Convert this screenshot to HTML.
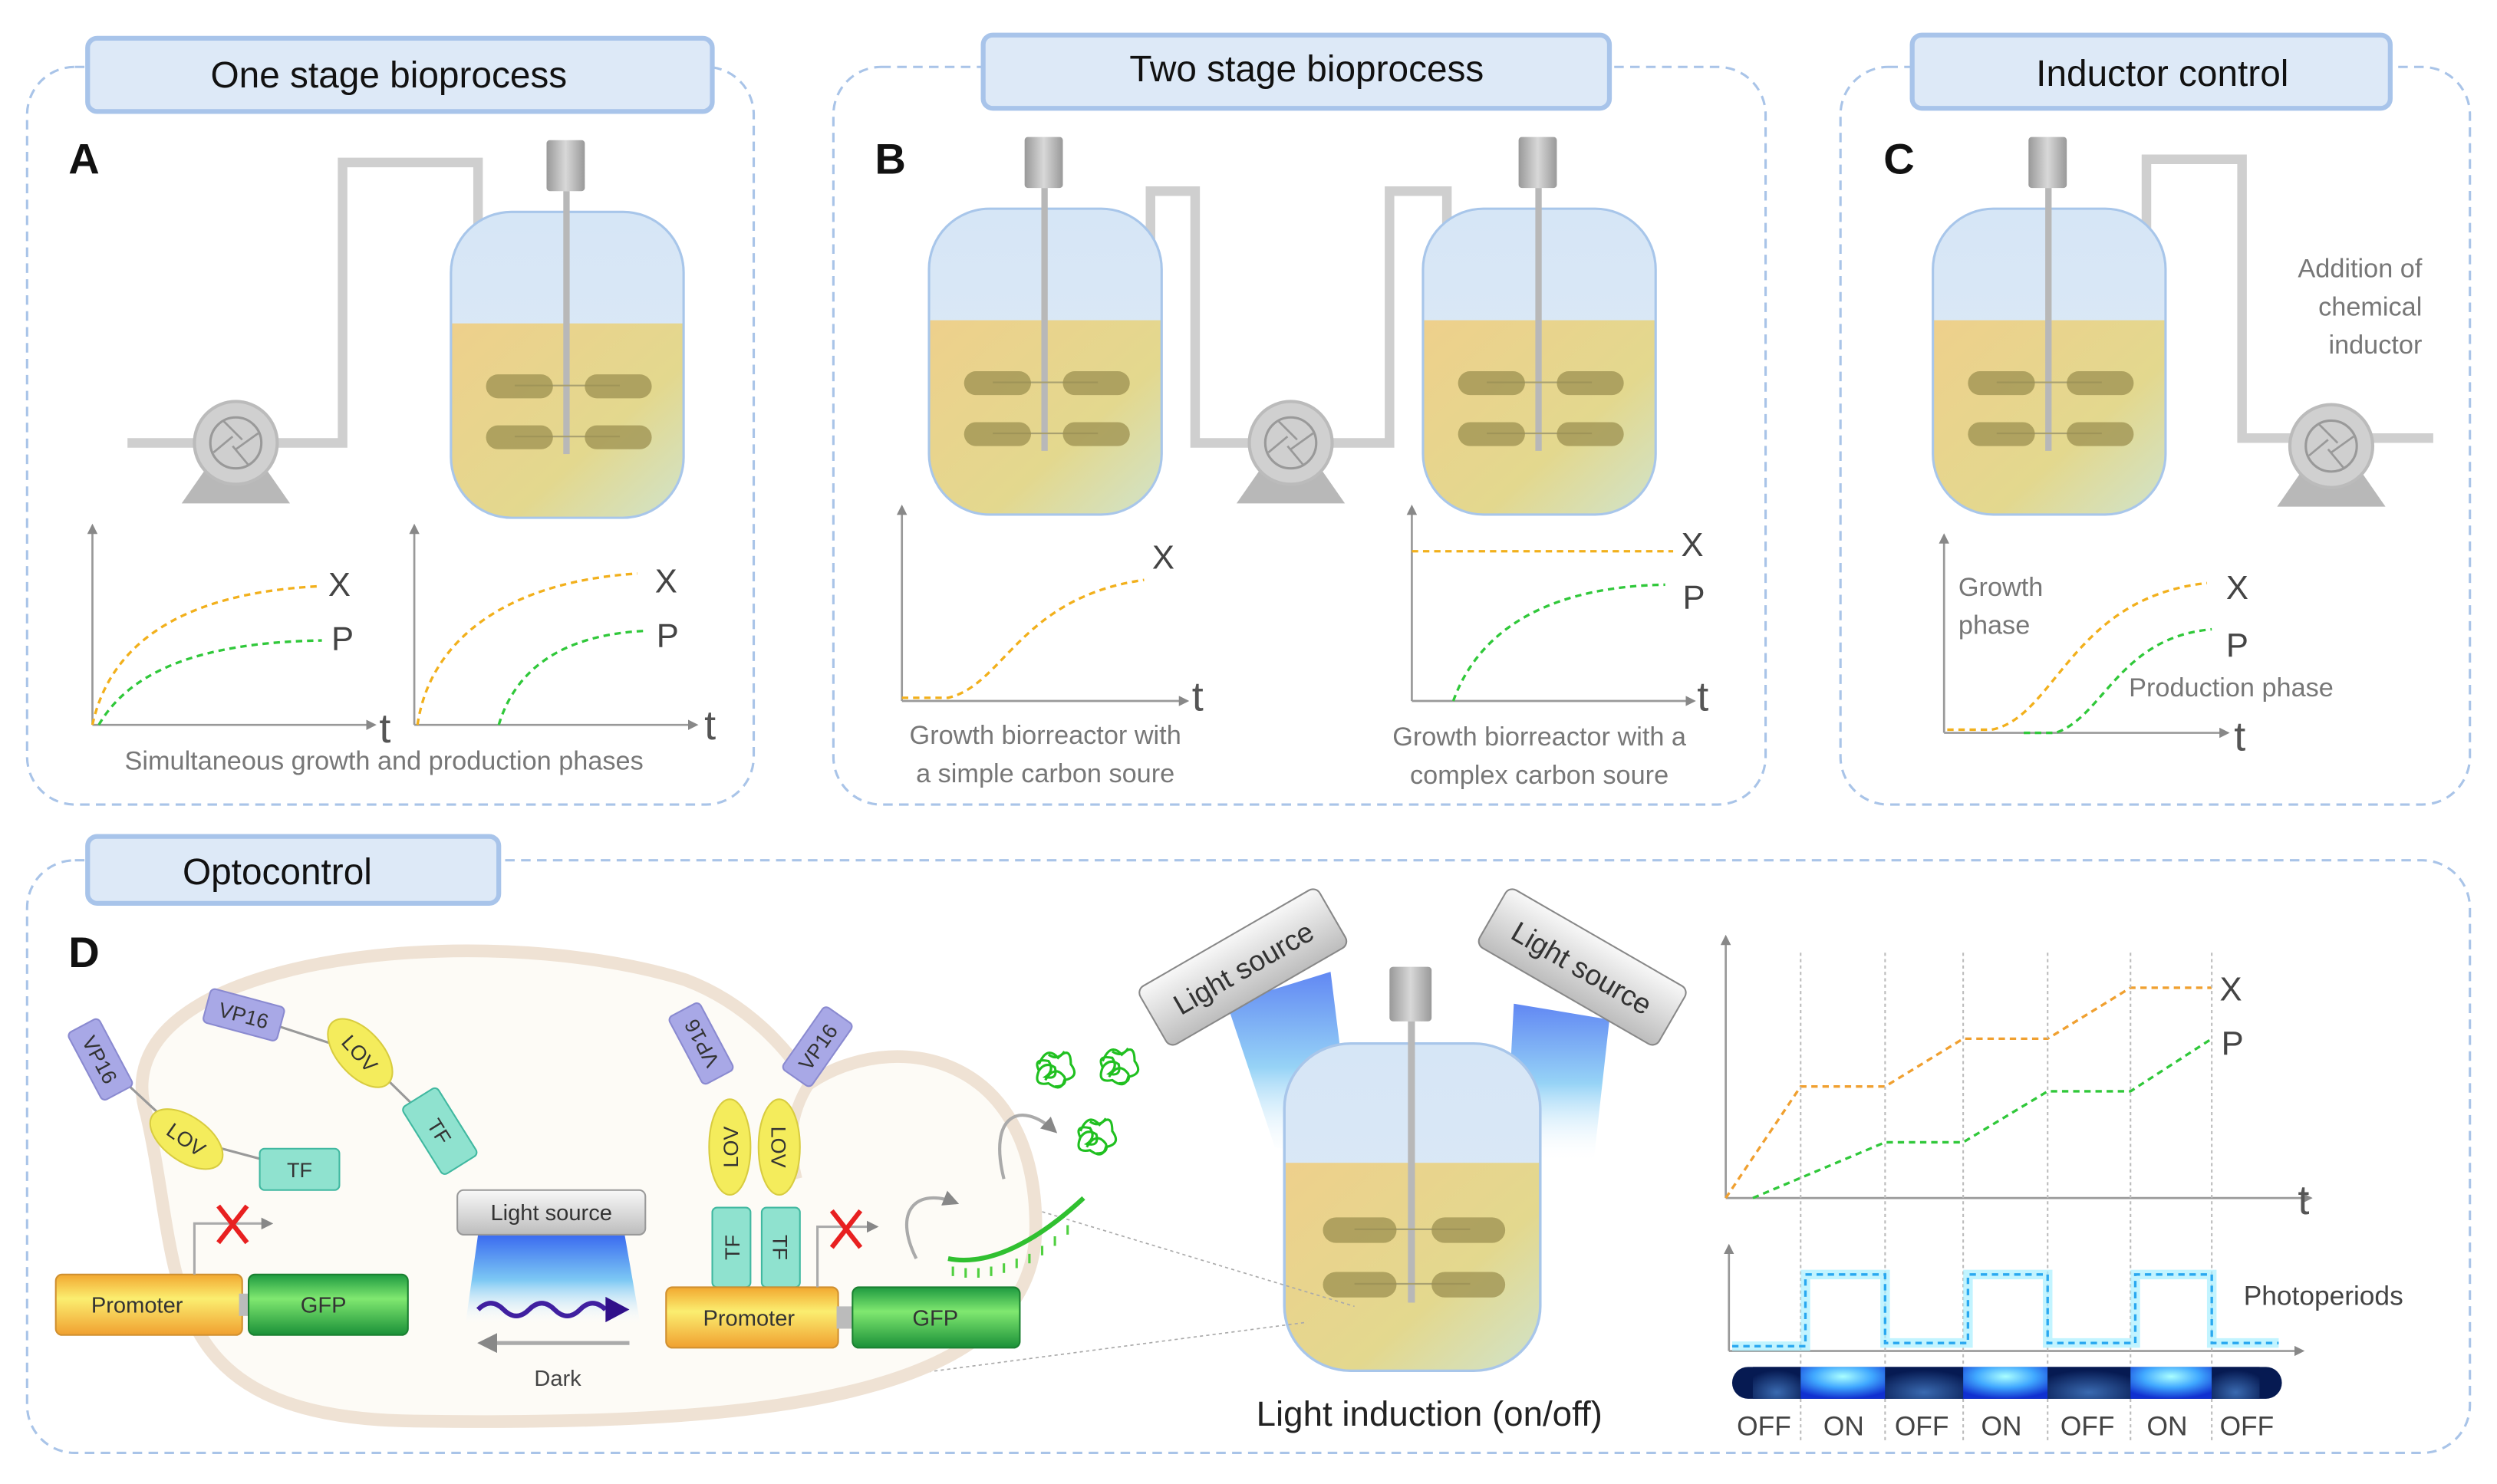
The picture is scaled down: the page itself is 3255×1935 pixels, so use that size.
<!DOCTYPE html>
<html><head><meta charset="utf-8"><style>
html,body{margin:0;padding:0;background:#fff}
svg{display:block}
text{font-family:"Liberation Sans",sans-serif}
</style></head><body>
<svg width="3255" height="1935" viewBox="0 0 1567 931.5" preserveAspectRatio="none" xmlns="http://www.w3.org/2000/svg">
<defs>
<linearGradient id="liq" x1="0" y1="0" x2="1" y2="1"><stop offset="0" stop-color="#eed08c"/><stop offset=".6" stop-color="#e3d88e"/><stop offset="1" stop-color="#cfe4cf"/></linearGradient>
<linearGradient id="gas" x1="0" y1="0" x2="0" y2="1"><stop offset="0" stop-color="#d6e6f6"/><stop offset="1" stop-color="#dfeaf6"/></linearGradient>
<linearGradient id="motor" x1="0" y1="0" x2="1" y2="0"><stop offset="0" stop-color="#999"/><stop offset=".5" stop-color="#d8d8d8"/><stop offset="1" stop-color="#999"/></linearGradient>
<linearGradient id="prom" x1="0" y1="0" x2="0" y2="1"><stop offset="0" stop-color="#f2a830"/><stop offset=".4" stop-color="#fbee70"/><stop offset="1" stop-color="#f0a030"/></linearGradient>
<linearGradient id="gfp" x1="0" y1="0" x2="0" y2="1"><stop offset="0" stop-color="#1e9a40"/><stop offset=".4" stop-color="#80e870"/><stop offset="1" stop-color="#1a9038"/></linearGradient>
<linearGradient id="cone" x1="0" y1="0" x2="0" y2="1"><stop offset="0" stop-color="#3a6af0"/><stop offset=".5" stop-color="#7cc8f4"/><stop offset="1" stop-color="#fff" stop-opacity="0"/></linearGradient>
<linearGradient id="lbox" x1="0" y1="0" x2="0" y2="1"><stop offset="0" stop-color="#f8f8f8"/><stop offset="1" stop-color="#bdbdbd"/></linearGradient>
<radialGradient id="on" cx=".5" cy=".3" r=".7"><stop offset="0" stop-color="#aaffff"/><stop offset=".5" stop-color="#40a8ff"/><stop offset="1" stop-color="#1030d0"/></radialGradient>
<radialGradient id="off" cx=".5" cy=".8" r=".7"><stop offset="0" stop-color="#3a6ab0"/><stop offset="1" stop-color="#061a52"/></radialGradient>
<clipPath id="bodyclip"><rect x="0" y="0" width="146" height="192" rx="38"/></clipPath>
<g id="reactor">
  <rect x="0" y="0" width="146" height="192" rx="38" fill="url(#gas)"/>
  <rect x="0" y="70" width="146" height="130" fill="url(#liq)" clip-path="url(#bodyclip)"/>
  <rect x="0" y="0" width="146" height="192" rx="38" fill="none" stroke="#a8c6ea" stroke-width="1.5"/>
  <rect x="60" y="-45" width="24" height="32" rx="2" fill="url(#motor)"/>
  <rect x="70.5" y="-13" width="4" height="165" fill="#b8b8b8"/>
  <line x1="40" y1="109" x2="106" y2="109" stroke="#a8a070" stroke-width="1"/>
  <line x1="40" y1="141" x2="106" y2="141" stroke="#a8a070" stroke-width="1"/>
  <rect x="22" y="102" width="42" height="15" rx="7.5" fill="#9c9050" opacity=".75"/>
  <rect x="84" y="102" width="42" height="15" rx="7.5" fill="#9c9050" opacity=".75"/>
  <rect x="22" y="134" width="42" height="15" rx="7.5" fill="#9c9050" opacity=".75"/>
  <rect x="84" y="134" width="42" height="15" rx="7.5" fill="#9c9050" opacity=".75"/>
</g>
<g id="pump">
  <path d="M-34,38 L-18,15 L18,15 L34,38 Z" fill="#b8b8b8"/>
  <circle cx="0" cy="0" r="26" fill="#d0d0d0" stroke="#bbb" stroke-width="2"/>
  <circle cx="0" cy="0" r="16" fill="#cfcfcf" stroke="#999" stroke-width="1.5"/>
  <path d="M-8,-14 L4,-2 M14,-6 L0,4 M8,14 L-2,2 M-14,6 L-2,-4" stroke="#999" stroke-width="1.3"/>
</g>
<g id="blob" fill="none" stroke="#20c020" stroke-width="1.5">
  <path d="M-10,-4 q5,-12 12,-4 q8,-8 8,4 q6,8 -4,10 q-2,8 -10,2 q-10,2 -6,-8 q-4,-8 6,-6 q4,6 -2,10 q8,2 6,-6 q-6,-4 -10,2"/>
  <path d="M-6,6 q6,-10 12,-2 q2,6 -6,6 M-4,-10 q6,4 10,-2"/>
</g>
<marker id="ah" viewBox="0 0 10 10" refX="8" refY="5" markerWidth="5" markerHeight="5" orient="auto"><path d="M0,0 L10,5 L0,10 Z" fill="#888"/></marker>
</defs>

<!-- panel frames -->
<g fill="none" stroke="#a9c4e8" stroke-width="1.5" stroke-dasharray="6 4">
<rect x="17" y="42" width="456" height="463" rx="30"/>
<rect x="523" y="42" width="585" height="463" rx="30"/>
<rect x="1155" y="42" width="395" height="463" rx="30"/>
<rect x="17" y="540" width="1533" height="372" rx="30"/>
</g>
<g fill="#dde9f7" stroke="#a8c4ea" stroke-width="3">
<rect x="55" y="24" width="392" height="46" rx="6"/>
<rect x="617" y="22" width="393" height="46" rx="6"/>
<rect x="1200" y="22" width="300" height="46" rx="6"/>
<rect x="55" y="525" width="258" height="42" rx="6"/>
</g>
<g font-size="23" text-anchor="middle" fill="#111">
<text x="244" y="55">One stage bioprocess</text>
<text x="820" y="51">Two stage bioprocess</text>
<text x="1357" y="54">Inductor control</text>
<text x="174" y="555">Optocontrol</text>
</g>
<g font-size="27" font-weight="bold" fill="#111">
<text x="43" y="109">A</text><text x="549" y="109">B</text><text x="1182" y="109">C</text><text x="43" y="607">D</text>
</g>

<!-- pipes -->
<g fill="none" stroke="#cfcfcf" stroke-width="6">
<path d="M80,278 H215 V102 H300 V183"/>
<path d="M722,200 V120 H750 V278 H785"/>
<path d="M835,278 H872 V120 H908 V200"/>
<path d="M1347,180 V100 H1407 V275 H1440"/>
<path d="M1488,275 H1527"/>
</g>

<use href="#reactor" x="283" y="133"/>
<use href="#reactor" x="583" y="131"/>
<use href="#reactor" x="893" y="131"/>
<use href="#reactor" x="1213" y="131"/>
<use href="#pump" x="148" y="278"/>
<use href="#pump" x="810" y="278"/>
<use href="#pump" x="1463" y="280"/>

<g stroke="#999" stroke-width="1.3" fill="none" marker-end="url(#ah)">
<path d="M58,455 V330"/><path d="M58,455 H235"/>
<path d="M260,455 V330"/><path d="M260,455 H437"/>
<path d="M566,440 V318"/><path d="M566,440 H745"/>
<path d="M886,440 V318"/><path d="M886,440 H1063"/>
<path d="M1220,460 V336"/><path d="M1220,460 H1398"/>
<path d="M1083,752 V588"/><path d="M1083,752 H1450"/>
<path d="M1085,848 V782"/><path d="M1085,848 H1445"/>
</g>
<g fill="none" stroke-width="1.6" stroke-dasharray="4 3">
<path d="M58,455 C70,400 120,372 200,368" stroke="#f2b01c"/>
<path d="M62,455 C85,415 140,403 202,402" stroke="#30c83a"/>
<path d="M262,455 C270,400 320,365 400,360" stroke="#f2b01c"/>
<path d="M313,455 C325,415 360,398 405,396" stroke="#30c83a"/>
<path d="M566,438 H595 C630,430 640,375 718,364" stroke="#f2b01c"/>
<path d="M886,346 H1050" stroke="#f2b01c"/>
<path d="M912,440 C930,390 980,368 1045,367" stroke="#30c83a"/>
<path d="M1222,458 H1250 C1290,450 1300,375 1385,366" stroke="#f2b01c"/>
<path d="M1270,460 H1290 C1320,450 1330,400 1388,395" stroke="#30c83a"/>
<path d="M1083,752 L1130,682 H1183 L1232,652 H1285 L1337,620 H1388" stroke="#f0a030"/>
<path d="M1100,752 L1183,717 H1232 L1285,685 H1337 L1388,652" stroke="#30c83a"/>
</g>
<g font-size="21" fill="#444">
<text x="206" y="374">X</text><text x="208" y="408">P</text>
<text x="411" y="372">X</text><text x="412" y="406">P</text>
<text x="723" y="357">X</text>
<text x="1055" y="349">X</text><text x="1056" y="382">P</text>
<text x="1397" y="376">X</text><text x="1397" y="412">P</text>
<text x="1393" y="628">X</text><text x="1394" y="662">P</text>
</g>
<g font-size="26" fill="#555">
<text x="238" y="466">t</text><text x="442" y="464">t</text><text x="748" y="446">t</text>
<text x="1065" y="446">t</text><text x="1402" y="471">t</text><text x="1442" y="762">t</text>
</g>
<g font-size="16.5" fill="#777">
<text x="241" y="483" text-anchor="middle">Simultaneous growth and production phases</text>
<text x="656" y="467" text-anchor="middle">Growth biorreactor with</text>
<text x="656" y="491" text-anchor="middle">a simple carbon soure</text>
<text x="966" y="468" text-anchor="middle">Growth biorreactor with a</text>
<text x="966" y="492" text-anchor="middle">complex carbon soure</text>
<text x="1520" y="174" text-anchor="end">Addition of</text>
<text x="1520" y="198" text-anchor="end">chemical</text>
<text x="1520" y="222" text-anchor="end">inductor</text>
<text x="1229" y="374">Growth</text><text x="1229" y="398">phase</text>
<text x="1336" y="437">Production phase</text>
</g>

<!-- D graph -->
<g stroke="#bbb" stroke-width="1" stroke-dasharray="2 2">
<path d="M1130,598 V905 M1183,598 V905 M1232,598 V905 M1285,598 V905 M1337,598 V905 M1388,598 V905"/>
</g>
<path d="M1087,845 H1133 V800 H1183 V843 H1235 V800 H1285 V843 H1340 V800 H1388 V843 H1430" fill="none" stroke="#a8f0ff" stroke-width="6" opacity=".7"/>
<path d="M1087,845 H1133 V800 H1183 V843 H1235 V800 H1285 V843 H1340 V800 H1388 V843 H1430" fill="none" stroke="#2aa8f0" stroke-width="1.6" stroke-dasharray="4 3"/>
<text x="1408" y="819" font-size="17" fill="#444">Photoperiods</text>
<rect x="1087" y="858" width="345" height="20" rx="10" fill="#061a52"/>
<rect x="1100" y="858" width="30" height="20" fill="url(#off)"/>
<rect x="1130" y="858" width="53" height="20" fill="url(#on)"/>
<rect x="1183" y="858" width="49" height="20" fill="url(#off)"/>
<rect x="1232" y="858" width="53" height="20" fill="url(#on)"/>
<rect x="1285" y="858" width="52" height="20" fill="url(#off)"/>
<rect x="1337" y="858" width="51" height="20" fill="url(#on)"/>
<rect x="1388" y="858" width="30" height="20" fill="url(#off)"/>
<g font-size="17" fill="#444" text-anchor="middle">
<text x="1107" y="901">OFF</text><text x="1157" y="901">ON</text><text x="1206" y="901">OFF</text><text x="1256" y="901">ON</text><text x="1310" y="901">OFF</text><text x="1360" y="901">ON</text><text x="1410" y="901">OFF</text>
</g>

<!-- D reactor + light -->
<path d="M770,630 L835,610 L850,730 L800,720 Z" fill="url(#cone)" opacity=".8"/>
<path d="M950,630 L1010,640 L1000,730 L945,725 Z" fill="url(#cone)" opacity=".8"/>
<g transform="translate(806,655) scale(1.1,1.07)"><use href="#reactor"/></g>
<g transform="translate(780,607) rotate(-30)"><rect x="-65" y="-21" width="130" height="42" rx="5" fill="url(#lbox)" stroke="#888"/><text x="0" y="7" font-size="18" text-anchor="middle" fill="#333">Light source</text></g>
<g transform="translate(993,607) rotate(30)"><rect x="-65" y="-21" width="130" height="42" rx="5" fill="url(#lbox)" stroke="#888"/><text x="0" y="7" font-size="18" text-anchor="middle" fill="#333">Light source</text></g>
<text x="897" y="895" font-size="22" text-anchor="middle" fill="#222">Light induction (on/off)</text>
<path d="M400,885 L820,830 M520,720 L850,820" stroke="#aaa" stroke-width="0.8" stroke-dasharray="2 2"/>

<!-- cell -->
<path d="M92,700 C60,600 300,575 430,615 C470,630 495,660 508,680 C560,645 650,660 650,770 C650,880 470,895 260,892 C95,890 115,800 92,700 Z" fill="#fdfbf6" stroke="#efe2d4" stroke-width="8"/>
<path d="M508,680 C495,700 495,720 500,740" fill="none" stroke="#efe2d4" stroke-width="7"/>

<path d="M63,665 L117,715 L188,734 M153,637 L226,661 L276,710" stroke="#999" stroke-width="1.5" fill="none"/>
<g transform="translate(63,665) rotate(62)"><rect x="-24" y="-11" width="48" height="22" rx="3" fill="#a8a8e6" stroke="#8a8ad0"/><text x="0" y="5" font-size="13" text-anchor="middle" fill="#333">VP16</text></g>
<g transform="translate(153,637) rotate(15)"><rect x="-24" y="-11" width="48" height="22" rx="3" fill="#a8a8e6" stroke="#8a8ad0"/><text x="0" y="5" font-size="13" text-anchor="middle" fill="#333">VP16</text></g>
<g transform="translate(117,715) rotate(35)"><ellipse rx="26" ry="14" fill="#f4ec5c" stroke="#d8cc40"/><text x="0" y="5" font-size="13" text-anchor="middle" fill="#333">LOV</text></g>
<g transform="translate(226,661) rotate(48)"><ellipse rx="26" ry="14" fill="#f4ec5c" stroke="#d8cc40"/><text x="0" y="5" font-size="13" text-anchor="middle" fill="#333">LOV</text></g>
<g transform="translate(188,734)"><rect x="-25" y="-13" width="50" height="26" rx="3" fill="#8fe2cf" stroke="#40b8a0"/><text x="0" y="5" font-size="13" text-anchor="middle" fill="#333">TF</text></g>
<g transform="translate(276,710) rotate(58)"><rect x="-25" y="-13" width="50" height="26" rx="3" fill="#8fe2cf" stroke="#40b8a0"/><text x="0" y="5" font-size="13" text-anchor="middle" fill="#333">TF</text></g>
<g transform="translate(440,655) rotate(-118)"><rect x="-24" y="-11" width="48" height="22" rx="3" fill="#a8a8e6" stroke="#8a8ad0"/><text x="0" y="5" font-size="13" text-anchor="middle" fill="#333">VP16</text></g>
<g transform="translate(513,657) rotate(-55)"><rect x="-24" y="-11" width="48" height="22" rx="3" fill="#a8a8e6" stroke="#8a8ad0"/><text x="0" y="5" font-size="13" text-anchor="middle" fill="#333">VP16</text></g>
<g transform="translate(458,720) rotate(-90)"><ellipse rx="30" ry="13" fill="#f4ec5c" stroke="#d8cc40"/><text x="0" y="5" font-size="13" text-anchor="middle" fill="#333">LOV</text></g>
<g transform="translate(489,720) rotate(90)"><ellipse rx="30" ry="13" fill="#f4ec5c" stroke="#d8cc40"/><text x="0" y="5" font-size="13" text-anchor="middle" fill="#333">LOV</text></g>
<g transform="translate(459,783) rotate(-90)"><rect x="-25" y="-12" width="50" height="24" rx="3" fill="#8fe2cf" stroke="#40b8a0"/><text x="0" y="5" font-size="13" text-anchor="middle" fill="#333">TF</text></g>
<g transform="translate(490,783) rotate(90)"><rect x="-25" y="-12" width="50" height="24" rx="3" fill="#8fe2cf" stroke="#40b8a0"/><text x="0" y="5" font-size="13" text-anchor="middle" fill="#333">TF</text></g>

<rect x="35" y="800" width="117" height="38" rx="4" fill="url(#prom)" stroke="#d09030"/>
<rect x="150" y="812" width="8" height="14" fill="#bbb"/>
<rect x="156" y="800" width="100" height="38" rx="4" fill="url(#gfp)" stroke="#1a8030"/>
<text x="86" y="824" font-size="14" text-anchor="middle" fill="#333">Promoter</text>
<text x="203" y="824" font-size="14" text-anchor="middle" fill="#333">GFP</text>
<rect x="418" y="808" width="108" height="38" rx="4" fill="url(#prom)" stroke="#d09030"/>
<rect x="525" y="820" width="10" height="14" fill="#bbb"/>
<rect x="535" y="808" width="105" height="38" rx="4" fill="url(#gfp)" stroke="#1a8030"/>
<text x="470" y="832" font-size="14" text-anchor="middle" fill="#333">Promoter</text>
<text x="587" y="832" font-size="14" text-anchor="middle" fill="#333">GFP</text>
<path d="M122,800 V768 H170" fill="none" stroke="#aaa" stroke-width="1.5" marker-end="url(#ah)"/>
<path d="M513,808 V770 H550" fill="none" stroke="#aaa" stroke-width="1.5" marker-end="url(#ah)"/>
<path d="M137,757 L155,780 M155,757 L137,780" stroke="#e82020" stroke-width="3"/>
<path d="M522,760 L540,783 M540,760 L522,783" stroke="#e82020" stroke-width="3"/>
<path d="M575,790 C560,760 575,745 600,755" fill="none" stroke="#aaa" stroke-width="2" marker-end="url(#ah)"/>
<path d="M630,740 C620,700 640,690 662,710" fill="none" stroke="#aaa" stroke-width="2" marker-end="url(#ah)"/>
<path d="M300,775 L392,775 L402,832 L292,832 Z" fill="url(#cone)"/>
<rect x="287" y="747" width="118" height="28" rx="4" fill="url(#lbox)" stroke="#999"/>
<text x="346" y="766" font-size="14" text-anchor="middle" fill="#333">Light source</text>
<path d="M300,822 q8,-8 16,0 t16,0 t16,0 t16,0 t16,0" fill="none" stroke="#4020a0" stroke-width="3"/>
<path d="M380,814 L395,822 L380,830 Z" fill="#30108a"/>
<path d="M395,843 H302" stroke="#aaa" stroke-width="2.5" marker-end="url(#ah)"/>
<text x="350" y="870" font-size="14" text-anchor="middle" fill="#444">Dark</text>
<path d="M595,790 C620,795 650,780 680,752" fill="none" stroke="#30c030" stroke-width="3"/>
<path d="M598,795 v6 M606,796 v6 M614,796 v6 M622,795 v6 M630,793 v6 M638,790 v6 M646,787 v6 M654,782 v6 M662,776 v6 M670,769 v6" stroke="#50d040" stroke-width="1.5"/>
<use href="#blob" x="662" y="672"/><use href="#blob" x="702" y="670"/><use href="#blob" x="688" y="714"/>
</svg>
</body></html>
